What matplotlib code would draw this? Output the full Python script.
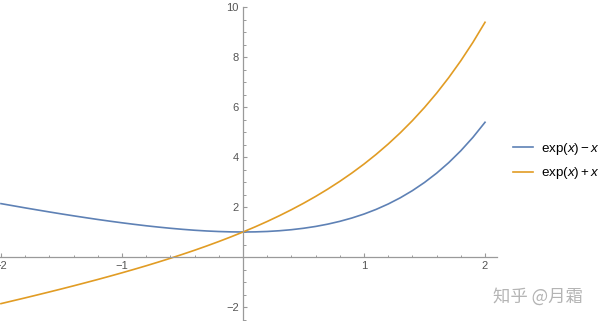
import matplotlib
matplotlib.use("Agg")
import matplotlib.pyplot as plt

x_vals = [-2.0, -1.9, -1.8, -1.7, -1.6, -1.5, -1.4, -1.3, -1.2, -1.1, -1.0,
          -0.9, -0.8, -0.7, -0.6, -0.5, -0.4, -0.3, -0.2, -0.1, 0.0,
          0.1, 0.2, 0.3, 0.4, 0.5, 0.6, 0.7, 0.8, 0.9, 1.0,
          1.1, 1.2, 1.3, 1.4, 1.5, 1.6, 1.7, 1.8, 1.9, 2.0]

exp_minus_x = [2.135, 2.050, 1.965, 1.883, 1.802, 1.723, 1.647, 1.573, 1.501, 1.433, 1.368,
               1.307, 1.249, 1.197, 1.149, 1.107, 1.070, 1.041, 1.019, 1.005, 1.000,
               1.005, 1.021, 1.050, 1.092, 1.149, 1.222, 1.314, 1.426, 1.560, 1.718,
               1.904, 2.120, 2.369, 2.655, 2.982, 3.353, 3.774, 4.250, 4.786, 5.389]

exp_plus_x = [-1.865, -1.750, -1.635, -1.517, -1.398, -1.277, -1.153, -1.027, -0.899, -0.767, -0.632,
              -0.493, -0.351, -0.203, -0.051, 0.107, 0.270, 0.441, 0.619, 0.805, 1.000,
              1.205, 1.421, 1.650, 1.892, 2.149, 2.422, 2.714, 3.026, 3.360, 3.718,
              4.104, 4.520, 4.969, 5.455, 5.982, 6.553, 7.174, 7.850, 8.586, 9.389]

x_ticks = [-2, -1, 1, 2]
y_ticks = [-2, 2, 4, 6, 8, 10]
labels = [r"$\mathrm{exp}(x) - x$", r"$\mathrm{exp}(x) + x$"]

plt.rcParams["mathtext.fontset"] = "custom"
plt.rcParams["mathtext.rm"] = "Liberation Sans"
plt.rcParams["mathtext.it"] = "Liberation Sans:italic"
plt.rcParams["font.family"] = ["Liberation Sans", "DejaVu Sans"]

W, H = 600, 321
fig = plt.figure(figsize=(W / 100, H / 100), dpi=100)
ax = fig.add_axes([0, 0, 497 / W, 1 - 7 / H])

blue = "#5E81B5"
orange = "#E19C24"
ax.plot(x_vals, exp_minus_x, color=blue, lw=1.2, label=labels[0])
ax.plot(x_vals, exp_plus_x, color=orange, lw=1.2, label=labels[1])

ax.set_xlim(-2.008, 2.099)
ax.set_ylim(-2.56, 10.0)

for s in ["top", "right"]:
    ax.spines[s].set_visible(False)
ax.spines["left"].set_position(("data", 0))
ax.spines["bottom"].set_position(("data", 0))
axis_gray = "#9a9a9a"
for s in ["left", "bottom"]:
    ax.spines[s].set_color(axis_gray)
    ax.spines[s].set_linewidth(0.9)

ax.set_xticks(x_ticks)
ax.set_yticks(y_ticks)
ax.set_xticks([v / 10 for v in range(-20, 21, 2) if v % 10 != 0], minor=True)
ax.set_yticks([v / 2 for v in range(-5, 21) if v % 4 != 0], minor=True)
ax.set_xticklabels(["\u22122", "\u22121", "1", "2"])
ax.set_yticklabels(["\u22122", "2", "4", "6", "8", "10"])
ax.tick_params(which="major", direction="in", length=3.2, width=0.8,
               color=axis_gray, labelcolor="#555555", labelsize=8, pad=3)
ax.tick_params(which="minor", direction="in", length=1.8, width=0.7, color=axis_gray)
ax.patch.set_alpha(0)

fig.legend(loc="center left", bbox_to_anchor=(508 / W, 1 - 161 / H),
           frameon=False, fontsize=9.6, handlelength=1.45, handletextpad=0.6,
           labelspacing=0.65, borderaxespad=0)

fig.text(538 / W, 1 - 297 / H, "知乎 @月霜", family=["Noto Sans CJK SC", "DejaVu Sans"],
         fontsize=12.5, color="#b4b4b4", ha="center", va="center")

fig.savefig("out.png", dpi=100)
